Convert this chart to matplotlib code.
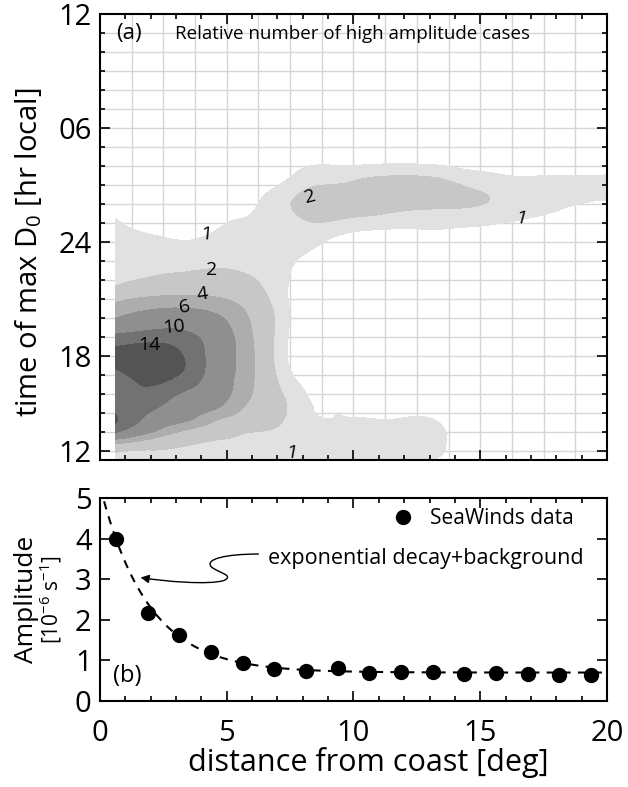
import numpy as np
import matplotlib
matplotlib.use('Agg')
import matplotlib.pyplot as plt
import matplotlib.tri as mtri
from matplotlib.path import Path
from matplotlib.patches import FancyArrowPatch

plt.rcParams['font.family'] = ['Open Sans', 'DejaVu Sans']
plt.rcParams['mathtext.fontset'] = 'custom'
plt.rcParams['mathtext.rm'] = 'Open Sans'
plt.rcParams['mathtext.it'] = 'Open Sans'

# --- (a) relative number of high amplitude cases ---
dist = [0.625, 1.875, 3.125, 4.375, 5.625, 6.875, 8.125, 9.375, 10.625,
        11.875, 13.125, 14.375, 15.625, 16.875, 18.125, 19.375, 20.0]
hours = [12.6, 13, 13.5, 14, 14.6, 15.3, 16, 17, 18, 19, 20, 21, 22, 23,
         24, 25, 26, 27, 28, 29]
# one row per distance column, one value per hour
cases = [
    [1.3, 2.2, 4.8, 10.2, 14.4, 12.8, 12.0, 12.8, 15.5, 11.0, 6.0, 3.6, 1.5, 1.4, 1.2, 1.05, 0.7, 0.3, 0, 0],
    [1.2, 1.9, 3.4, 6.4, 9.0, 11.0, 13.0, 15.5, 17.0, 12.0, 7.3, 4.3, 2.15, 1.6, 1.2, 0.8, 0.4, 0.1, 0, 0],
    [1.1, 1.6, 2.6, 3.9, 6.6, 8.3, 9.9, 13.9, 14.6, 11.6, 7.8, 4.5, 2.4, 1.6, 1.05, 0.7, 0.4, 0.1, 0, 0],
    [1.05, 1.4, 1.95, 3.0, 4.3, 6.6, 7.8, 8.8, 9.0, 8.6, 6.8, 4.3, 2.6, 1.7, 1.2, 0.8, 0.5, 0.2, 0, 0],
    [1.05, 1.3, 1.7, 2.1, 3.0, 4.05, 4.8, 5.2, 5.3, 5.1, 4.5, 3.4, 2.3, 1.7, 1.4, 1.1, 0.7, 0.3, 0, 0],
    [1.05, 1.2, 1.4, 1.8, 2.3, 2.6, 2.5, 2.15, 1.9, 1.95, 2.02, 1.7, 1.5, 1.4, 1.3, 1.25, 1.5, 0.85, 0.2, 0],
    [1.05, 1.15, 1.2, 1.25, 1.25, 1.15, 1.02, 0.6, 0.4, 0.35, 0.35, 0.4, 0.5, 0.8, 1.3, 1.9, 2.3, 1.8, 0.95, 0],
    [1.05, 1.15, 1.2, 1.2, 1.03, 0.9, 0.4, 0.2, 0.1, 0.1, 0.1, 0.1, 0.1, 0.3, 0.7, 1.8, 2.5, 2.05, 1.02, 0.1],
    [1.05, 1.2, 1.3, 1.3, 1.08, 0.6, 0.2, 0, 0, 0, 0, 0, 0, 0.1, 0.4, 1.5, 2.6, 2.5, 1.1, 0.1],
    [1.05, 1.25, 1.3, 1.3, 1.08, 0.6, 0.2, 0, 0, 0, 0, 0, 0, 0.1, 0.5, 1.3, 2.4, 2.6, 1.2, 0.1],
    [1.05, 1.2, 1.25, 1.25, 1.05, 0.6, 0.2, 0, 0, 0, 0, 0, 0, 0.1, 0.5, 1.3, 2.25, 2.45, 1.1, 0],
    [0.5, 0.6, 0.6, 0.55, 0.4, 0.2, 0, 0, 0, 0, 0, 0, 0, 0.1, 0.5, 1.2, 2.15, 1.95, 0.8, 0],
    [0.2, 0.2, 0.2, 0.15, 0.1, 0, 0, 0, 0, 0, 0, 0, 0, 0, 0.4, 1.05, 1.85, 1.6, 0.6, 0],
    [0, 0, 0, 0, 0, 0, 0, 0, 0, 0, 0, 0, 0, 0, 0.2, 0.8, 1.5, 1.4, 0.5, 0],
    [0, 0, 0, 0, 0, 0, 0, 0, 0, 0, 0, 0, 0, 0, 0.1, 0.6, 1.2, 1.4, 0.5, 0],
    [0, 0, 0, 0, 0, 0, 0, 0, 0, 0, 0, 0, 0, 0, 0, 0.4, 0.9, 1.3, 0.5, 0],
    [0, 0, 0, 0, 0, 0, 0, 0, 0, 0, 0, 0, 0, 0, 0, 0.3, 0.85, 1.35, 0.55, 0],
]
levels = [1, 2, 4, 6, 10, 14, 100]
greys = ['#e1e1e1', '#c7c7c7', '#adadad', '#8f8f8f', '#727272', '#545454']

clabels = ['1', '2', '4', '6', '10', '14', '1', '2', '1']
clabel_x = [4.2, 4.4, 4.05, 3.35, 2.9, 1.95, 7.55, 8.3, 16.6]
clabel_y = [24.4, 22.55, 21.25, 20.6, 19.55, 18.6, 12.9, 26.4, 25.25]
clabel_rot = [-5, 0, 8, 10, 5, 0, -10, 15, -15]

yticks = [13, 18, 24, 30, 36]
ytick_labels = ['12', '18', '24', '06', '12']

# --- (b) amplitude vs distance ---
amp_x = [0.625, 1.875, 3.125, 4.375, 5.625, 6.875, 8.125, 9.375, 10.625,
         11.875, 13.125, 14.375, 15.625, 16.875, 18.125, 19.375]
amp_y = [4.0, 2.17, 1.62, 1.2, 0.93, 0.78, 0.74, 0.82, 0.69, 0.72, 0.71,
         0.66, 0.68, 0.67, 0.64, 0.65]
fit_a, fit_scale, fit_bg = 4.59, 1.9, 0.7

fig = plt.figure(figsize=(6.28, 7.87), dpi=100)
ax1 = fig.add_axes([0.1592, 0.4155, 0.8073, 0.5667])
ax2 = fig.add_axes([0.1592, 0.1093, 0.8073, 0.2579])

# contour field, smoothed by matplotlib's tri refiner
X, Y = np.meshgrid(dist, hours, indexing='ij')
Z = np.array(cases)
tri = mtri.Triangulation(X.ravel(), Y.ravel())
refiner = mtri.UniformTriRefiner(tri)
tri_f, z_f = refiner.refine_field(Z.ravel(), subdiv=3)
ax1.tricontourf(tri_f, z_f, levels=levels, colors=greys, zorder=1)

for t, x, y, r in zip(clabels, clabel_x, clabel_y, clabel_rot):
    ax1.text(x, y, t, fontsize=14, rotation=r, ha='center', va='center', zorder=3)

ax1.set_xlim(0, 20)
ax1.set_ylim(12.53, 36)
ax1.set_xticks([0, 5, 10, 15, 20])
ax1.set_xticks(np.arange(0, 21, 1), minor=True)
ax1.set_xticklabels([])
ax1.set_yticks(yticks)
ax1.set_yticklabels(ytick_labels)
ax1.set_yticks(np.arange(13, 36, 1), minor=True)
for v in np.arange(1.25, 20, 1.25):
    ax1.axvline(v, color='#d6d6d6', lw=1.0, zorder=0.5)
for h in np.arange(13, 36, 1):
    ax1.axhline(h, color='#d6d6d6', lw=1.0, zorder=0.5)

ax1.text(0.65, 34.95, '(a)', fontsize=16, va='center')
ax1.text(2.95, 34.95, 'Relative number of high amplitude cases', fontsize=13.5, va='center')

# bottom panel
ax2.plot(amp_x, amp_y, 'o', color='black', ms=10, label='SeaWinds data', zorder=3)
xf = np.linspace(0, 20, 300)
ax2.plot(xf, fit_a * np.exp(-xf / fit_scale) + fit_bg, color='black', lw=1.5,
         dashes=(4, 3.5), zorder=2)
ax2.set_xlim(0, 20)
ax2.set_ylim(0, 5)
ax2.set_xticks([0, 5, 10, 15, 20])
ax2.set_xticks(np.arange(0, 21, 1), minor=True)
ax2.set_yticks([0, 1, 2, 3, 4, 5])
ax2.legend(loc='upper right', bbox_to_anchor=(0.955, 1.0), frameon=False,
           fontsize=15, handletextpad=0.3, borderaxespad=0.1, markerscale=1.0)
ax2.text(6.63, 3.52, 'exponential decay+background', fontsize=15.5, va='center')
ax2.text(0.5, 0.62, '(b)', fontsize=17, va='center')

arrow_path = Path([(6.25, 3.62), (5.0, 3.62), (4.1, 3.5), (4.4, 3.3),
                   (4.7, 3.15), (5.3, 3.1), (4.9, 2.97),
                   (4.3, 2.85), (2.5, 2.95), (1.6, 3.04)],
                  [Path.MOVETO] + [Path.CURVE4] * 9)
arr = FancyArrowPatch(path=arrow_path, arrowstyle='-|>,head_length=5,head_width=2.5',
                      color='black', lw=1.0, transform=ax2.transData)
ax2.add_patch(arr)

for ax in (ax1, ax2):
    ax.tick_params(which='both', direction='in', top=True, right=True, width=1.2)
    ax.tick_params(which='major', length=7, labelsize=21)
    ax.tick_params(which='minor', length=3.5)
    for s in ax.spines.values():
        s.set_linewidth(1.5)
ax1.tick_params(axis='y', pad=6)
ax2.tick_params(axis='y', pad=6)
ax2.tick_params(axis='x', pad=13)

ax2.set_xlabel('distance from coast [deg]', fontsize=22)
ax2.xaxis.set_label_coords(0.53, -0.225)
fig.text(0.045, 0.68, 'time of max D$_0$ [hr local]', fontsize=21,
         rotation=90, ha='center', va='center')
fig.text(0.042, 0.238, 'Amplitude', fontsize=19, rotation=90, ha='center', va='center')
fig.text(0.081, 0.238, '[10$^{-6}$ s$^{-1}$]', fontsize=15, rotation=90, ha='center', va='center')

fig.savefig('out.png', dpi=100)
